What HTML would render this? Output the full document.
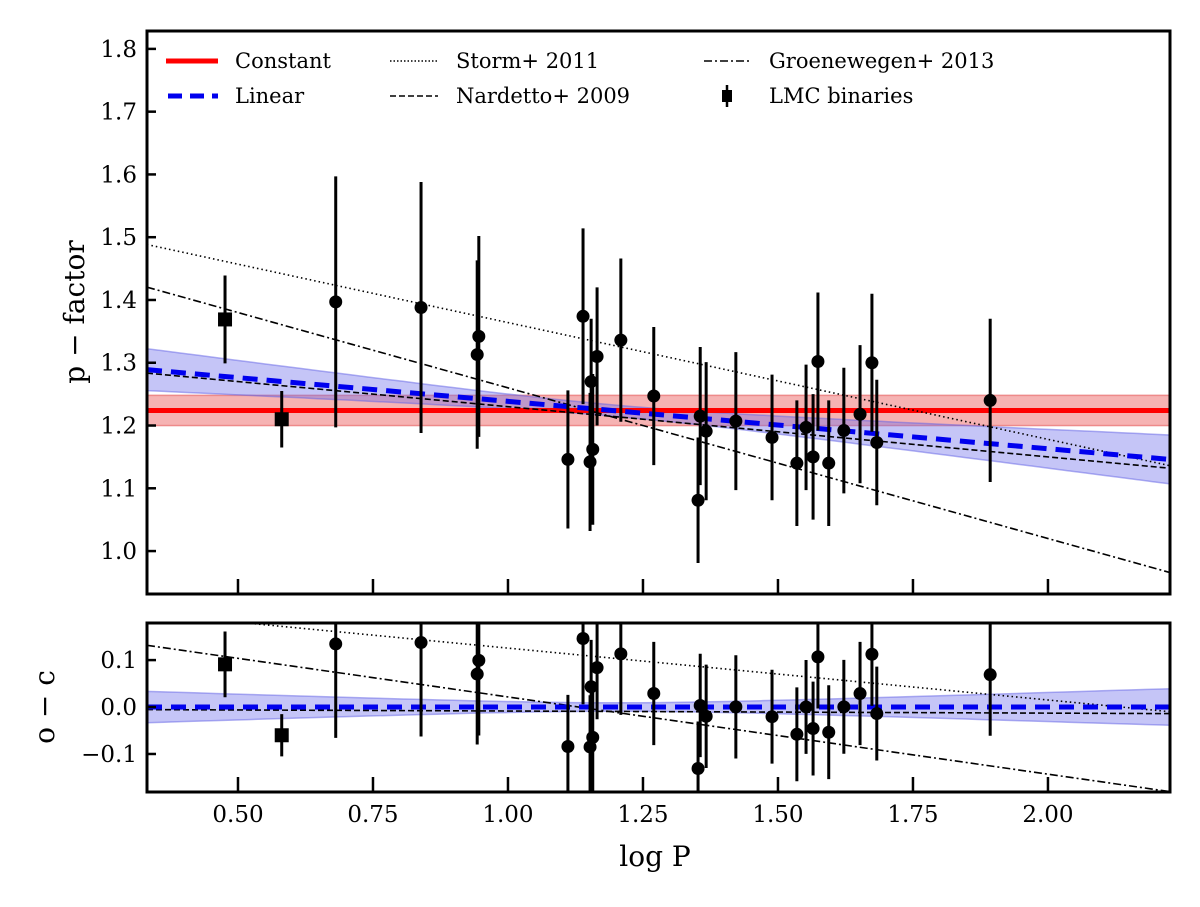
<!DOCTYPE html>
<html><head><meta charset="utf-8"><style>
html,body{margin:0;padding:0;background:#fff;}
svg text{font-family:"DejaVu Serif","Liberation Serif",serif;fill:#000;}
</style></head><body>
<svg id="chart" width="1200" height="902" viewBox="0 0 1200 902" xmlns="http://www.w3.org/2000/svg">
<defs>
<clipPath id="clipTop"><rect x="147" y="31" width="1023" height="563"/></clipPath>
<clipPath id="clipBot"><rect x="147" y="623" width="1023" height="169"/></clipPath>
</defs>
<g id="topPanel" clip-path="url(#clipTop)"></g>
<g id="botPanel" clip-path="url(#clipBot)"></g>
<g id="axesGroup"></g>
</svg>
<script>
const logP = [0.476,0.581,0.681,0.839,0.943,0.946,1.111,1.139,1.152,1.154,1.157,1.165,1.209,1.270,1.352,1.356,1.367,1.422,1.489,1.535,1.552,1.565,1.574,1.594,1.622,1.652,1.674,1.683,1.893];
const pFactor = [1.369,1.210,1.397,1.388,1.313,1.342,1.146,1.374,1.142,1.270,1.162,1.310,1.336,1.247,1.081,1.215,1.191,1.207,1.181,1.140,1.197,1.150,1.302,1.140,1.192,1.218,1.300,1.173,1.240];
const pErr = [0.07,0.045,0.2,0.2,0.15,0.16,0.11,0.14,0.11,0.1,0.12,0.11,0.13,0.11,0.1,0.11,0.11,0.11,0.1,0.1,0.1,0.1,0.11,0.1,0.1,0.11,0.11,0.1,0.13];
const isBinary = [1,1,0,0,0,0,0,0,0,0,0,0,0,0,0,0,0,0,0,0,0,0,0,0,0,0,0,0,0];
const constFit = [1.224, 0.024];
const linFit = [1.314, -0.0755];
const linBand = [0.009, 0.037, 1.2];
const storm = [1.550, -0.186];
const nardetto = [1.31, -0.08];
const groen = [1.50, -0.24];
const xTicks = [0.50,0.75,1.00,1.25,1.50,1.75,2.00];
const yTicks = [1.0,1.1,1.2,1.3,1.4,1.5,1.6,1.7,1.8];
const rTicks = [-0.1,0.0,0.1];

const NS="http://www.w3.org/2000/svg";
const X0=147,X1=1170,XMIN=0.3315,XMAX=2.226;
const TY0=31,TY1=594,TMIN=0.9316,TMAX=1.8285;
const BY0=623,BY1=792,BMIN=-0.181,BMAX=0.179;
const sx=v=>X0+(v-XMIN)/(XMAX-XMIN)*(X1-X0);
const sy=v=>TY1-(v-TMIN)/(TMAX-TMIN)*(TY1-TY0);
const ry=v=>BY1-(v-BMIN)/(BMAX-BMIN)*(BY1-BY0);
function mk(parent,tag,attrs){const e=document.createElementNS(NS,tag);for(const k in attrs)e.setAttribute(k,attrs[k]);parent.appendChild(e);return e;}
const gTop=document.getElementById('topPanel'),gBot=document.getElementById('botPanel'),gAxes=document.getElementById('axesGroup');
const lin=v=>linFit[0]+linFit[1]*v;
const sig=v=>Math.sqrt(linBand[0]**2+(linBand[1]*(v-linBand[2]))**2);
const xs=[];for(let i=0;i<=60;i++)xs.push(XMIN+(XMAX-XMIN)*i/60);

let e=mk(gTop,'rect',{x:X0,y:sy(constFit[0]+constFit[1]),width:X1-X0,height:sy(constFit[0]-constFit[1])-sy(constFit[0]+constFit[1]),fill:'#f6b3b3',stroke:'#ee8a8a','stroke-width':1.5});


function band(g,f,yf,name){let d='M';xs.forEach((v,i)=>{d+=(i?'L':'')+sx(v).toFixed(1)+','+yf(f(v)+sig(v)).toFixed(1);});
for(let i=xs.length-1;i>=0;i--){d+='L'+sx(xs[i]).toFixed(1)+','+yf(f(xs[i])-sig(xs[i])).toFixed(1);}d+='Z';
const p=mk(g,'path',{d:d,fill:'rgba(110,110,235,0.4)',stroke:'rgba(100,100,230,0.5)','stroke-width':1.5});

}
band(gTop,lin,sy,'linear-band');
band(gBot,v=>0,ry,'linear-residual-band');
e=mk(gTop,'line',{x1:X0,x2:X1,y1:sy(constFit[0]),y2:sy(constFit[0]),stroke:'#f00','stroke-width':5});



function refLine(g,c,yf,sub,dash,w,name){const l=mk(g,'line',{x1:sx(XMIN),x2:sx(XMAX),y1:yf(c[0]+c[1]*XMIN-(sub?lin(XMIN):0)),y2:yf(c[0]+c[1]*XMAX-(sub?lin(XMAX):0)),stroke:'#000','stroke-width':w,'stroke-dasharray':dash});

}
[[gTop,sy,0],[gBot,ry,1]].forEach(([g,yf,sub])=>{
 refLine(g,storm,yf,sub,'1.5 3',1.6,'storm-2011-line');
 refLine(g,nardetto,yf,sub,'6 3',1.6,'nardetto-2009-line');
 refLine(g,groen,yf,sub,'8 3 2 3',1.6,'groenewegen-2013-line');
});
e=mk(gTop,'line',{x1:sx(XMIN),x2:sx(XMAX),y1:sy(lin(XMIN)),y2:sy(lin(XMAX)),stroke:'#0000ee','stroke-width':5,'stroke-dasharray':'15 9'});


e=mk(gBot,'line',{x1:X0,x2:X1,y1:ry(0),y2:ry(0),stroke:'#0000ee','stroke-width':5,'stroke-dasharray':'15 9'});



logP.forEach((v,i)=>{
 [[gTop,sy,pFactor[i]],[gBot,ry,pFactor[i]-lin(v)]].forEach(([g,yf,val])=>{
  const x=sx(v);
  const l=mk(g,'line',{x1:x,x2:x,y1:yf(val+pErr[i]),y2:yf(val-pErr[i]),stroke:'#000','stroke-width':3});
  
  
  let m;
  if(isBinary[i]){m=mk(g,'rect',{x:x-7,y:yf(val)-7,width:14,height:14,fill:'#000'});
   }
  else{m=mk(g,'circle',{cx:x,cy:yf(val),r:6.5,fill:'#000'});
   }
  
 });
});

[[TY0,TY1,'top-frame'],[BY0,BY1,'residual-frame']].forEach(([a,b,n])=>{const r=mk(gAxes,'rect',{x:X0,y:a,width:X1-X0,height:b-a,fill:'none',stroke:'#000','stroke-width':3});

});
xTicks.forEach(v=>{const x=sx(v);
 let t=mk(gAxes,'line',{x1:x,x2:x,y1:TY1,y2:TY1-15,stroke:'#000','stroke-width':2.5});
 
 
 t=mk(gAxes,'line',{x1:x,x2:x,y1:BY1,y2:BY1-15,stroke:'#000','stroke-width':2.5});
 
 
 const tx=mk(gAxes,'text',{x:x,y:822,'text-anchor':'middle','font-size':23});tx.textContent=v.toFixed(2);
 
 });
yTicks.forEach(v=>{const y=sy(v);
 const t=mk(gAxes,'line',{x1:X0,x2:X0+9,y1:y,y2:y,stroke:'#000','stroke-width':2.5});
 
 
 const tx=mk(gAxes,'text',{x:137,y:y+8,'text-anchor':'end','font-size':23});tx.textContent=v.toFixed(1);
 
 });
rTicks.forEach(v=>{const y=ry(v);
 const t=mk(gAxes,'line',{x1:X0,x2:X0+9,y1:y,y2:y,stroke:'#000','stroke-width':2.5});
 
 
 const tx=mk(gAxes,'text',{x:137,y:y+8,'text-anchor':'end','font-size':23});tx.textContent=(v<0?'\u2212':'')+Math.abs(v).toFixed(1);
 
 });
</script>
<svg width="1200" height="902" style="position:absolute;left:0;top:0" xmlns="http://www.w3.org/2000/svg">
<g font-size="21">
 <g><line x1="166" y1="61" x2="218" y2="61" stroke="#f00" stroke-width="5"/><text x="235" y="68">Constant</text></g>
 <g><line x1="168" y1="96" x2="218" y2="96" stroke="#0000ee" stroke-width="5" stroke-dasharray="14 8"/><text x="235" y="103">Linear</text></g>
 <g><line x1="390" y1="61" x2="438" y2="61" stroke="#000" stroke-width="1.5" stroke-dasharray="1.5 2"/><text x="456" y="68">Storm+ 2011</text></g>
 <g><line x1="390" y1="96" x2="438" y2="96" stroke="#000" stroke-width="1.5" stroke-dasharray="6 3"/><text x="456" y="103">Nardetto+ 2009</text></g>
 <g><line x1="704" y1="61" x2="750" y2="61" stroke="#000" stroke-width="1.5" stroke-dasharray="8 3 2 3"/><text x="769" y="68">Groenewegen+ 2013</text></g>
 <g><line x1="727" y1="85" x2="727" y2="107" stroke="#000" stroke-width="2.5"/><rect x="722" y="90" width="10" height="12" fill="#000"/><text x="769" y="103">LMC binaries</text></g>
</g>
<text x="0" y="0" font-size="28" text-anchor="middle" transform="translate(84,312) rotate(-90)" style="font-family:'DejaVu Serif','Liberation Serif',serif">p − factor</text>
<text x="0" y="0" font-size="28" text-anchor="middle" transform="translate(54,707) rotate(-90)" style="font-family:'DejaVu Serif','Liberation Serif',serif">o − c</text>
<text x="655" y="866" font-size="28" text-anchor="middle" style="font-family:'DejaVu Serif','Liberation Serif',serif">log P</text>
</svg>
</body></html>
